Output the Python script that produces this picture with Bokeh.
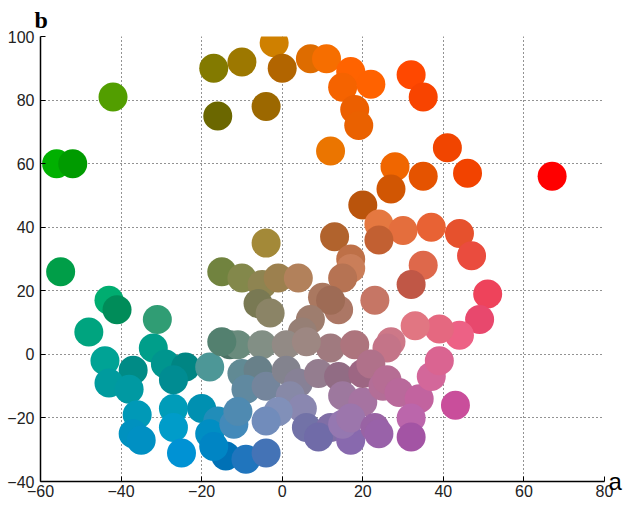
import math
import numpy as np
from bokeh.plotting import figure
from bokeh.models import ColumnDataSource, FixedTicker, Title, LinearAxis
from bokeh.embed import file_html
from bokeh.resources import INLINE

# a, b chromaticity of each sample and its lightness L
a_vals = [-17, -10, -2, 0, 7, 11, 17, 22, 15, 18, 19, 32, 35, -16, -4, 12, 41, 46, 28, 35, 27, 20,
          -42, -56, -52, 67, -4,
          13, 24, 30, 37, 44, 24, 17, 47, 35, 32, 51, 49, 44, 39, 33, 27, 23, 17, 15, 10, 14, 12, 7, 5,
          12, 18, 26, -55, -15, -10, -5, -1, 4, -6, -3, -43, -41, -48, -31,
          -44, -37, -43, -38, -36, -37, -35, -32, -29, -24, -27, -18, -27, -27, -25, -20, -16, -18, -14,
          -13, -11, -15, -5, 1, 6, -10, -6, -9, -4, 1, 4, 9, 14, 15, 20, 20, 22, 25, 26, 29, 34, 32, 37,
          39, 43, 2, 5, -1, -4, -12, -11, -9, -4, -17, 6, 12, 9, 17, 15, 17, 23, 24, 32]
b_vals = [90, 92, 98, 90, 93, 93, 89, 85, 84, 77, 72, 88, 81, 75, 78, 64, 65, 57, 59, 56, 52, 47,
          81, 60, 60, 56, 35,
          37, 41, 39, 40, 38, 36, 30, 31, 28, 22, 19, 11, 6, 8, 9, 4, 17, 27, 24, 18, 14, 17, 11, 7,
          2, 3, 2, 26, 26, 24, 22, 24, 24, 16, 13, 17, 14, 7, 11,
          -2, -5, -9, -11, -19, -25, -27, 2, -3, -4, -8, -4, -17, -23, -31, -17, -21, -25, -32,
          3, 3, 4, 3, 3, 4, -6, -5, -11, -10, -5, -9, -6, -7, -13, -15, -6, -3, -10, -8, -12, -14, -20, -7,
          -2, -16, -13, -17, -18, -21, -22, -18, -33, -31, -29, -23, -23, -26, -27, -22, -20, -23, -25, -26]
L_vals = [50, 52, 60, 50, 58, 62, 62, 62, 60, 58, 58, 58, 56, 42, 48, 62, 55, 55, 60, 55, 52, 48,
          58, 62, 55, 55, 58,
          50, 62, 60, 58, 55, 52, 55, 55, 58, 50, 55, 55, 60, 60, 62, 60, 58, 60, 55, 55, 55, 50, 55, 55,
          55, 55, 58, 55, 52, 55, 55, 55, 58, 50, 55, 62, 50, 58, 58,
          58, 50, 55, 55, 55, 52, 52, 58, 55, 50, 52, 58, 58, 58, 55, 55, 55, 55, 45,
          45, 55, 50, 58, 58, 58, 55, 52, 55, 55, 55, 55, 55, 50, 55, 55, 50, 55, 55, 55, 55, 55, 55, 58,
          58, 52, 58, 58, 60, 58, 55, 55, 48, 48, 52, 50, 50, 48, 50, 55, 55, 50, 50, 48]

x_ticks = [-60, -40, -20, 0, 20, 40, 60, 80]
y_ticks = [-40, -20, 0, 20, 40, 60, 80, 100]

# display tweak of the swatch colours (hue remap and chroma boost)
HUE_IN = [0, 40, 80, 100, 135, 200, 250, 290, 330, 360]
HUE_OUT = [0, 42, 62, 95, 135, 205, 268, 298, 335, 360]
CHROMA_GAIN = 1.3


def lab_to_hex(L, a, b):
    C = math.hypot(a, b) * CHROMA_GAIN
    h = math.degrees(math.atan2(b, a)) % 360
    h = float(np.interp(h, HUE_IN, HUE_OUT))
    a = C * math.cos(math.radians(h))
    b = C * math.sin(math.radians(h))
    fy = (L + 16) / 116
    fx = fy + a / 500
    fz = fy - b / 200

    def finv(t):
        return t ** 3 if t > 6 / 29 else 3 * (6 / 29) ** 2 * (t - 4 / 29)

    X = 0.95047 * finv(fx)
    Y = finv(fy)
    Z = 1.08883 * finv(fz)
    r = 3.2406 * X - 1.5372 * Y - 0.4986 * Z
    g = -0.9689 * X + 1.8758 * Y + 0.0415 * Z
    bl = 0.0557 * X - 0.2040 * Y + 1.0570 * Z

    def gam(c):
        c = min(max(c, 0.0), 1.0)
        return 12.92 * c if c <= 0.0031308 else 1.055 * c ** (1 / 2.4) - 0.055

    return "#%02x%02x%02x" % tuple(int(round(gam(c) * 255)) for c in (r, g, bl))


colors = [lab_to_hex(L, a, b) for L, a, b in zip(L_vals, a_vals, b_vals)]
src = ColumnDataSource(dict(a=a_vals, b=b_vals, color=colors))

p = figure(width=629, height=506, x_range=(-60, 80), y_range=(-40, 100),
           output_backend="svg", toolbar_location=None,
           min_border_left=40, min_border_top=36, min_border_right=25, min_border_bottom=25)
p.outline_line_color = None
p.background_fill_color = "white"

p.scatter("a", "b", source=src, size=29, fill_color="color", line_color=None)

for ax, ticks in ((p.xaxis[0], x_ticks), (p.yaxis[0], y_ticks)):
    ax.ticker = FixedTicker(ticks=ticks)
    ax.major_tick_in = 5
    ax.major_tick_out = 0
    ax.minor_tick_line_color = None
    ax.axis_line_color = "black"
    ax.axis_line_width = 1.5
    ax.major_tick_line_color = "black"
    ax.major_label_text_font = "Liberation Sans"
    ax.major_label_text_font_size = "16px"
    ax.major_label_text_color = "#222222"
p.xaxis[0].major_label_standoff = 3
p.yaxis[0].major_label_standoff = 6

for g in (p.xgrid[0], p.ygrid[0]):
    g.grid_line_color = "black"
    g.grid_line_dash = "1 3"
    g.grid_line_width = 1
    g.grid_line_alpha = 0.85
p.xgrid[0].ticker = FixedTicker(ticks=x_ticks)
p.ygrid[0].ticker = FixedTicker(ticks=y_ticks)

# "b" label above the top-left corner
tb = Title(text="b", align="left", offset=-6, standoff=8, text_font="Liberation Serif",
           text_font_style="bold", text_font_size="24px", text_color="black")
p.add_layout(tb, "above")

# "a" label at the right end of the horizontal axis
ra = LinearAxis(axis_label="a", ticker=FixedTicker(ticks=[]), major_tick_line_color=None,
                minor_tick_line_color=None, axis_line_color=None, axis_label_standoff=4,
                axis_label_text_font="Liberation Sans", axis_label_text_font_size="24px",
                axis_label_text_font_style="normal", axis_label_text_color="black",
                axis_label_orientation="horizontal")
try:
    ra.axis_label_align = "start"
except Exception:
    pass
p.add_layout(ra, "right")

open("out.html", "w").write(file_html(p, INLINE))
